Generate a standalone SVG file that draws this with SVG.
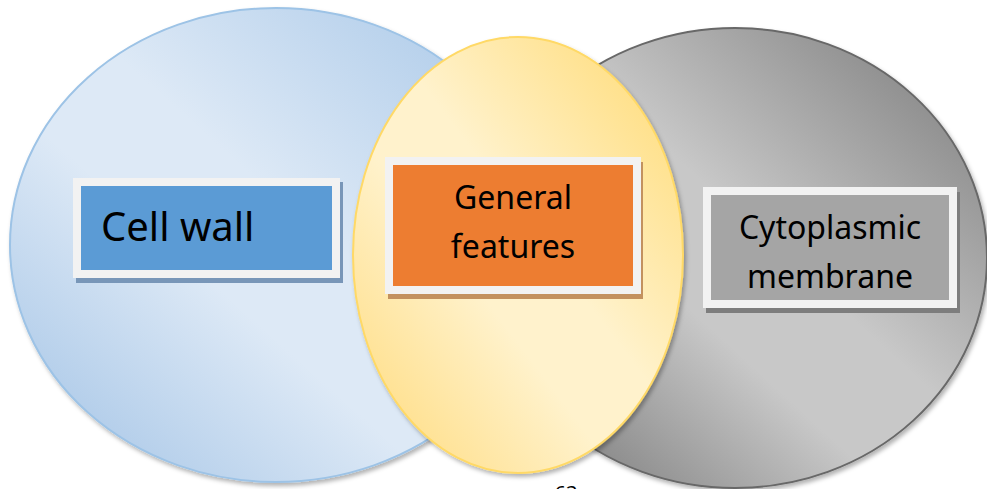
<svg xmlns="http://www.w3.org/2000/svg" width="987" height="489" viewBox="0 0 987 489">
  <style>
    .lbl { font-family: "Noto Sans", "Open Sans", "Liberation Sans", sans-serif; fill: #000; }
    .frame { fill: #f2f2f2; }
  </style>
  <defs>
    <linearGradient id="gBlue" x1="1" y1="0" x2="0" y2="1">
      <stop offset="0" stop-color="#a6c6e7"/>
      <stop offset="0.45" stop-color="#dde9f6"/>
      <stop offset="0.6" stop-color="#dde9f6"/>
      <stop offset="1" stop-color="#9ec0e4"/>
    </linearGradient>
    <linearGradient id="gGray" x1="1" y1="0" x2="0" y2="1">
      <stop offset="0" stop-color="#777777"/>
      <stop offset="0.45" stop-color="#c8c8c8"/>
      <stop offset="0.6" stop-color="#c8c8c8"/>
      <stop offset="1" stop-color="#6a6a6a"/>
    </linearGradient>
    <linearGradient id="gYellow" x1="1" y1="0" x2="0" y2="1">
      <stop offset="0" stop-color="#ffd96f"/>
      <stop offset="0.45" stop-color="#fff2cc"/>
      <stop offset="0.6" stop-color="#fff2cc"/>
      <stop offset="1" stop-color="#ffd976"/>
    </linearGradient>
    <filter id="sh" x="-10%" y="-10%" width="120%" height="120%">
      <feDropShadow dx="2" dy="3" stdDeviation="2" flood-color="#000" flood-opacity="0.3"/>
    </filter>
  </defs>

  <g id="cell-wall">
    <ellipse cx="276" cy="245" rx="266" ry="237" fill="url(#gBlue)" stroke="#9dc3e6" stroke-width="2" filter="url(#sh)"/>
    <rect x="76" y="182" width="267" height="101" fill="#7896b8"/>
    <rect class="frame" x="73" y="178" width="267" height="100"/>
    <rect x="81" y="186" width="251" height="84" fill="#5b9bd5"/>
    <text class="lbl" x="101" y="241" font-size="40">Cell wall</text>
  </g>

  <g id="cytoplasmic-membrane">
    <ellipse cx="735" cy="258" rx="252" ry="230" fill="url(#gGray)" stroke="#686868" stroke-width="2" filter="url(#sh)"/>
    <rect x="706" y="192" width="254" height="121" fill="#7d7d7d"/>
    <rect class="frame" x="703" y="187" width="254" height="121"/>
    <rect x="711" y="195" width="238" height="105" fill="#a5a5a5"/>
    <text class="lbl" x="830" y="239" font-size="32" text-anchor="middle">Cytoplasmic</text>
    <text class="lbl" x="830" y="288" font-size="32" text-anchor="middle">membrane</text>
  </g>

  <g id="general-features">
    <ellipse cx="518" cy="255" rx="165" ry="218" fill="url(#gYellow)" stroke="#ffd966" stroke-width="2" filter="url(#sh)"/>
    <rect x="388" y="162" width="255" height="137" fill="#c3915f"/>
    <rect class="frame" x="385" y="157" width="256" height="137"/>
    <rect x="393" y="165" width="240" height="121" fill="#ed7d31"/>
    <text class="lbl" x="513" y="209" font-size="32" text-anchor="middle">General</text>
    <text class="lbl" x="513" y="258" font-size="32" text-anchor="middle">features</text>
  </g>

  <g id="connectors"/>

  <text id="page-number" class="lbl" x="566" y="500" font-size="20" text-anchor="middle">63</text>
</svg>
